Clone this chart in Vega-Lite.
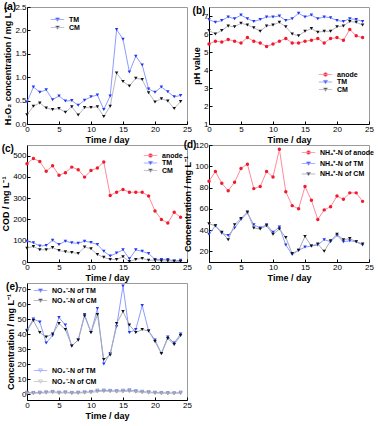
{
"$schema":"https://vega.github.io/schema/vega-lite/v6.json",
"padding":{"left":1,"top":1,"right":0,"bottom":0},
"columns":2,
"spacing":{"row":-6,"column":-9},
"resolve":{"scale":{"stroke":"independent"},"legend":{"stroke":"independent"}},
"datasets":{
"a":[
{"d":0,"s":"TM","v":0.47},{"d":1,"s":"TM","v":0.79},{"d":2,"s":"TM","v":0.68},{"d":3,"s":"TM","v":0.73},{"d":4,"s":"TM","v":0.52},{"d":5,"s":"TM","v":0.60},{"d":6,"s":"TM","v":0.49},{"d":7,"s":"TM","v":0.50},{"d":8,"s":"TM","v":0.40},{"d":9,"s":"TM","v":0.51},{"d":10,"s":"TM","v":0.58},{"d":11,"s":"TM","v":0.62},{"d":12,"s":"TM","v":0.31},{"d":13,"s":"TM","v":0.60},{"d":14,"s":"TM","v":2.02},{"d":15,"s":"TM","v":1.81},{"d":16,"s":"TM","v":1.11},{"d":17,"s":"TM","v":1.45},{"d":18,"s":"TM","v":1.26},{"d":19,"s":"TM","v":0.75},{"d":20,"s":"TM","v":0.68},{"d":21,"s":"TM","v":0.79},{"d":22,"s":"TM","v":0.69},{"d":23,"s":"TM","v":0.58},{"d":24,"s":"TM","v":0.61},
{"d":0,"s":"CM","v":0.20},{"d":1,"s":"CM","v":0.38},{"d":2,"s":"CM","v":0.45},{"d":3,"s":"CM","v":0.34},{"d":4,"s":"CM","v":0.31},{"d":5,"s":"CM","v":0.33},{"d":6,"s":"CM","v":0.25},{"d":7,"s":"CM","v":0.37},{"d":8,"s":"CM","v":0.19},{"d":9,"s":"CM","v":0.35},{"d":10,"s":"CM","v":0.35},{"d":11,"s":"CM","v":0.37},{"d":12,"s":"CM","v":0.16},{"d":13,"s":"CM","v":0.38},{"d":14,"s":"CM","v":1.09},{"d":15,"s":"CM","v":0.91},{"d":16,"s":"CM","v":0.81},{"d":17,"s":"CM","v":0.98},{"d":18,"s":"CM","v":0.95},{"d":19,"s":"CM","v":0.67},{"d":20,"s":"CM","v":0.47},{"d":21,"s":"CM","v":0.54},{"d":22,"s":"CM","v":0.49},{"d":23,"s":"CM","v":0.33},{"d":24,"s":"CM","v":0.48}
],
"b":[
{"d":0,"s":"anode","v":5.45},{"d":1,"s":"anode","v":5.6},{"d":2,"s":"anode","v":5.55},{"d":3,"s":"anode","v":5.7},{"d":4,"s":"anode","v":5.6},{"d":5,"s":"anode","v":5.5},{"d":6,"s":"anode","v":5.8},{"d":7,"s":"anode","v":5.6},{"d":8,"s":"anode","v":5.5},{"d":9,"s":"anode","v":5.3},{"d":10,"s":"anode","v":5.45},{"d":11,"s":"anode","v":5.6},{"d":12,"s":"anode","v":5.75},{"d":13,"s":"anode","v":5.5},{"d":14,"s":"anode","v":5.5},{"d":15,"s":"anode","v":5.6},{"d":16,"s":"anode","v":5.65},{"d":17,"s":"anode","v":5.75},{"d":18,"s":"anode","v":5.5},{"d":19,"s":"anode","v":5.75},{"d":20,"s":"anode","v":5.8},{"d":21,"s":"anode","v":5.65},{"d":22,"s":"anode","v":6.25},{"d":23,"s":"anode","v":5.9},{"d":24,"s":"anode","v":5.8},
{"d":0,"s":"TM","v":6.8},{"d":1,"s":"TM","v":6.65},{"d":2,"s":"TM","v":6.75},{"d":3,"s":"TM","v":6.95},{"d":4,"s":"TM","v":6.85},{"d":5,"s":"TM","v":7.05},{"d":6,"s":"TM","v":6.85},{"d":7,"s":"TM","v":6.7},{"d":8,"s":"TM","v":6.8},{"d":9,"s":"TM","v":6.95},{"d":10,"s":"TM","v":6.95},{"d":11,"s":"TM","v":7.0},{"d":12,"s":"TM","v":6.75},{"d":13,"s":"TM","v":6.85},{"d":14,"s":"TM","v":7.15},{"d":15,"s":"TM","v":6.95},{"d":16,"s":"TM","v":7.05},{"d":17,"s":"TM","v":6.85},{"d":18,"s":"TM","v":6.95},{"d":19,"s":"TM","v":6.9},{"d":20,"s":"TM","v":6.75},{"d":21,"s":"TM","v":6.7},{"d":22,"s":"TM","v":6.85},{"d":23,"s":"TM","v":6.8},{"d":24,"s":"TM","v":6.7},
{"d":0,"s":"CM","v":6.2},{"d":1,"s":"CM","v":6.0},{"d":2,"s":"CM","v":6.2},{"d":3,"s":"CM","v":6.45},{"d":4,"s":"CM","v":6.4},{"d":5,"s":"CM","v":6.6},{"d":6,"s":"CM","v":6.5},{"d":7,"s":"CM","v":6.35},{"d":8,"s":"CM","v":6.15},{"d":9,"s":"CM","v":6.45},{"d":10,"s":"CM","v":6.5},{"d":11,"s":"CM","v":6.65},{"d":12,"s":"CM","v":6.4},{"d":13,"s":"CM","v":6.0},{"d":14,"s":"CM","v":5.9},{"d":15,"s":"CM","v":6.15},{"d":16,"s":"CM","v":6.3},{"d":17,"s":"CM","v":6.1},{"d":18,"s":"CM","v":6.15},{"d":19,"s":"CM","v":6.15},{"d":20,"s":"CM","v":6.4},{"d":21,"s":"CM","v":6.45},{"d":22,"s":"CM","v":6.7},{"d":23,"s":"CM","v":6.65},{"d":24,"s":"CM","v":6.5}
],
"c":[
{"d":0,"s":"anode","v":462},{"d":1,"s":"anode","v":487},{"d":2,"s":"anode","v":472},{"d":3,"s":"anode","v":427},{"d":4,"s":"anode","v":452},{"d":5,"s":"anode","v":408},{"d":6,"s":"anode","v":420},{"d":7,"s":"anode","v":446},{"d":8,"s":"anode","v":434},{"d":9,"s":"anode","v":399},{"d":10,"s":"anode","v":430},{"d":11,"s":"anode","v":442},{"d":12,"s":"anode","v":470},{"d":13,"s":"anode","v":313},{"d":14,"s":"anode","v":328},{"d":15,"s":"anode","v":341},{"d":16,"s":"anode","v":328},{"d":17,"s":"anode","v":328},{"d":18,"s":"anode","v":328},{"d":19,"s":"anode","v":310},{"d":20,"s":"anode","v":240},{"d":21,"s":"anode","v":200},{"d":22,"s":"anode","v":183},{"d":23,"s":"anode","v":234},{"d":24,"s":"anode","v":210},
{"d":0,"s":"TM","v":97},{"d":1,"s":"TM","v":90},{"d":2,"s":"TM","v":75},{"d":3,"s":"TM","v":78},{"d":4,"s":"TM","v":102},{"d":5,"s":"TM","v":82},{"d":6,"s":"TM","v":98},{"d":7,"s":"TM","v":90},{"d":8,"s":"TM","v":88},{"d":9,"s":"TM","v":98},{"d":10,"s":"TM","v":92},{"d":11,"s":"TM","v":82},{"d":12,"s":"TM","v":50},{"d":13,"s":"TM","v":28},{"d":14,"s":"TM","v":42},{"d":15,"s":"TM","v":57},{"d":16,"s":"TM","v":15},{"d":17,"s":"TM","v":57},{"d":18,"s":"TM","v":50},{"d":19,"s":"TM","v":40},{"d":20,"s":"TM","v":12},{"d":21,"s":"TM","v":12},{"d":22,"s":"TM","v":12},{"d":23,"s":"TM","v":5},{"d":24,"s":"TM","v":8},
{"d":0,"s":"CM","v":65},{"d":1,"s":"CM","v":73},{"d":2,"s":"CM","v":58},{"d":3,"s":"CM","v":57},{"d":4,"s":"CM","v":68},{"d":5,"s":"CM","v":54},{"d":6,"s":"CM","v":48},{"d":7,"s":"CM","v":45},{"d":8,"s":"CM","v":40},{"d":9,"s":"CM","v":70},{"d":10,"s":"CM","v":62},{"d":11,"s":"CM","v":35},{"d":12,"s":"CM","v":22},{"d":13,"s":"CM","v":12},{"d":14,"s":"CM","v":12},{"d":15,"s":"CM","v":25},{"d":16,"s":"CM","v":2},{"d":17,"s":"CM","v":12},{"d":18,"s":"CM","v":17},{"d":19,"s":"CM","v":8},{"d":20,"s":"CM","v":8},{"d":21,"s":"CM","v":5},{"d":22,"s":"CM","v":5},{"d":23,"s":"CM","v":3},{"d":24,"s":"CM","v":2}
],
"dd":[
{"d":0,"s":"anode","v":86},{"d":1,"s":"anode","v":95},{"d":2,"s":"anode","v":84},{"d":3,"s":"anode","v":77},{"d":4,"s":"anode","v":85},{"d":5,"s":"anode","v":98},{"d":6,"s":"anode","v":102},{"d":7,"s":"anode","v":79},{"d":8,"s":"anode","v":81},{"d":9,"s":"anode","v":95},{"d":10,"s":"anode","v":90},{"d":11,"s":"anode","v":116},{"d":12,"s":"anode","v":76},{"d":13,"s":"anode","v":63},{"d":14,"s":"anode","v":60},{"d":15,"s":"anode","v":81},{"d":16,"s":"anode","v":68},{"d":17,"s":"anode","v":50},{"d":18,"s":"anode","v":59},{"d":19,"s":"anode","v":62},{"d":20,"s":"anode","v":72},{"d":21,"s":"anode","v":69},{"d":22,"s":"anode","v":75},{"d":23,"s":"anode","v":75},{"d":24,"s":"anode","v":67},
{"d":0,"s":"TM","v":36},{"d":1,"s":"TM","v":44},{"d":2,"s":"TM","v":37},{"d":3,"s":"TM","v":35},{"d":4,"s":"TM","v":42},{"d":5,"s":"TM","v":50},{"d":6,"s":"TM","v":56},{"d":7,"s":"TM","v":45},{"d":8,"s":"TM","v":42},{"d":9,"s":"TM","v":45},{"d":10,"s":"TM","v":38},{"d":11,"s":"TM","v":43},{"d":12,"s":"TM","v":26},{"d":13,"s":"TM","v":17},{"d":14,"s":"TM","v":21},{"d":15,"s":"TM","v":24},{"d":16,"s":"TM","v":25},{"d":17,"s":"TM","v":26},{"d":18,"s":"TM","v":31},{"d":19,"s":"TM","v":29},{"d":20,"s":"TM","v":35},{"d":21,"s":"TM","v":29},{"d":22,"s":"TM","v":30},{"d":23,"s":"TM","v":29},{"d":24,"s":"TM","v":26},
{"d":0,"s":"CM","v":46},{"d":1,"s":"CM","v":44},{"d":2,"s":"CM","v":38},{"d":3,"s":"CM","v":31},{"d":4,"s":"CM","v":45},{"d":5,"s":"CM","v":51},{"d":6,"s":"CM","v":57},{"d":7,"s":"CM","v":42},{"d":8,"s":"CM","v":41},{"d":9,"s":"CM","v":44},{"d":10,"s":"CM","v":36},{"d":11,"s":"CM","v":41},{"d":12,"s":"CM","v":33},{"d":13,"s":"CM","v":18},{"d":14,"s":"CM","v":21},{"d":15,"s":"CM","v":34},{"d":16,"s":"CM","v":25},{"d":17,"s":"CM","v":27},{"d":18,"s":"CM","v":20},{"d":19,"s":"CM","v":30},{"d":20,"s":"CM","v":36},{"d":21,"s":"CM","v":31},{"d":22,"s":"CM","v":32},{"d":23,"s":"CM","v":29},{"d":24,"s":"CM","v":27}
],
"e3":[
{"d":0,"s":"TM","v":42.5},{"d":1,"s":"TM","v":50},{"d":2,"s":"TM","v":48},{"d":3,"s":"TM","v":34},{"d":4,"s":"TM","v":39},{"d":5,"s":"TM","v":51},{"d":6,"s":"TM","v":46},{"d":7,"s":"TM","v":32},{"d":8,"s":"TM","v":36},{"d":9,"s":"TM","v":53},{"d":10,"s":"TM","v":41},{"d":11,"s":"TM","v":57},{"d":12,"s":"TM","v":20},{"d":13,"s":"TM","v":27},{"d":14,"s":"TM","v":45},{"d":15,"s":"TM","v":72},{"d":16,"s":"TM","v":41},{"d":17,"s":"TM","v":43},{"d":18,"s":"TM","v":59},{"d":19,"s":"TM","v":42},{"d":20,"s":"TM","v":36},{"d":21,"s":"TM","v":27},{"d":22,"s":"TM","v":38},{"d":23,"s":"TM","v":34},{"d":24,"s":"TM","v":40},
{"d":0,"s":"CM","v":42},{"d":1,"s":"CM","v":49},{"d":2,"s":"CM","v":41},{"d":3,"s":"CM","v":38},{"d":4,"s":"CM","v":40},{"d":5,"s":"CM","v":47},{"d":6,"s":"CM","v":43},{"d":7,"s":"CM","v":32},{"d":8,"s":"CM","v":36},{"d":9,"s":"CM","v":52},{"d":10,"s":"CM","v":41},{"d":11,"s":"CM","v":53},{"d":12,"s":"CM","v":23},{"d":13,"s":"CM","v":26},{"d":14,"s":"CM","v":47},{"d":15,"s":"CM","v":55},{"d":16,"s":"CM","v":46},{"d":17,"s":"CM","v":41},{"d":18,"s":"CM","v":43},{"d":19,"s":"CM","v":42},{"d":20,"s":"CM","v":35},{"d":21,"s":"CM","v":27},{"d":22,"s":"CM","v":37},{"d":23,"s":"CM","v":33},{"d":24,"s":"CM","v":39}
],
"e2":[
{"d":0,"s":"TM","v":1.0},{"d":1,"s":"TM","v":0.8},{"d":2,"s":"TM","v":1.0},{"d":3,"s":"TM","v":1.2},{"d":4,"s":"TM","v":1.5},{"d":5,"s":"TM","v":1.0},{"d":6,"s":"TM","v":1.2},{"d":7,"s":"TM","v":0.8},{"d":8,"s":"TM","v":1.0},{"d":9,"s":"TM","v":1.2},{"d":10,"s":"TM","v":1.5},{"d":11,"s":"TM","v":2.3},{"d":12,"s":"TM","v":2.4},{"d":13,"s":"TM","v":2.2},{"d":14,"s":"TM","v":2.0},{"d":15,"s":"TM","v":2.3},{"d":16,"s":"TM","v":2.6},{"d":17,"s":"TM","v":2.0},{"d":18,"s":"TM","v":1.6},{"d":19,"s":"TM","v":1.3},{"d":20,"s":"TM","v":1.0},{"d":21,"s":"TM","v":0.8},{"d":22,"s":"TM","v":0.7},{"d":23,"s":"TM","v":0.6},{"d":24,"s":"TM","v":1.0},
{"d":0,"s":"CM","v":0.6},{"d":1,"s":"CM","v":0.4},{"d":2,"s":"CM","v":0.5},{"d":3,"s":"CM","v":0.8},{"d":4,"s":"CM","v":1.0},{"d":5,"s":"CM","v":0.6},{"d":6,"s":"CM","v":0.8},{"d":7,"s":"CM","v":0.5},{"d":8,"s":"CM","v":0.6},{"d":9,"s":"CM","v":0.8},{"d":10,"s":"CM","v":1.0},{"d":11,"s":"CM","v":1.6},{"d":12,"s":"CM","v":1.8},{"d":13,"s":"CM","v":1.7},{"d":14,"s":"CM","v":1.5},{"d":15,"s":"CM","v":1.6},{"d":16,"s":"CM","v":1.8},{"d":17,"s":"CM","v":1.4},{"d":18,"s":"CM","v":1.0},{"d":19,"s":"CM","v":0.8},{"d":20,"s":"CM","v":0.6},{"d":21,"s":"CM","v":0.4},{"d":22,"s":"CM","v":0.3},{"d":23,"s":"CM","v":0.3},{"d":24,"s":"CM","v":0.5}
]
},
"concat":[
{
"width":160,"height":117,
"title":{"text":"(a)"},
"data":{"name":"a"},
"encoding":{
"x":{"field":"d","type":"quantitative","scale":{"domain":[0,25]},"axis":{"values":[0,5,10,15,20,25],"title":"Time / day"}},
"y":{"field":"v","type":"quantitative","scale":{"domain":[0,2.5]},"axis":{"values":[0,0.5,1,1.5,2,2.5],"format":".1f","title":"H₂O₂ concentration / mg L⁻¹"}}
},
"layer":[
{"transform":[{"filter":"datum.s === 'TM'"}],"layer":[
{"mark":{"type":"line","strokeWidth":1},"encoding":{"stroke":{"field":"s","type":"nominal","scale":{"domain":["TM"],"range":["#8e9cff"]},"legend":{"orient":"none","legendX":27,"legendY":9,"title":null,"symbolType":"M-3,0H3M-0.9,-0.7L0.9,-0.7L0,0.8Z","symbolSize":20,"symbolStrokeWidth":0.8,"symbolFillColor":"#2238f0","labelOffset":8,"labelFontSize":7}}}},
{"mark":{"type":"point","shape":"triangle-down","filled":true,"size":12,"color":"#2238f0","opacity":1}}]},
{"transform":[{"filter":"datum.s === 'CM'"}],"layer":[
{"mark":{"type":"line","strokeWidth":1},"encoding":{"stroke":{"field":"s","type":"nominal","scale":{"domain":["CM"],"range":["#b4b8c4"]},"legend":{"orient":"none","legendX":27,"legendY":17,"title":null,"symbolType":"M-3,0H3M-0.9,-0.7L0.9,-0.7L0,0.8Z","symbolSize":20,"symbolStrokeWidth":0.8,"symbolFillColor":"#111111","labelOffset":8,"labelFontSize":7}}}},
{"mark":{"type":"point","shape":"triangle-down","filled":true,"size":12,"color":"#111111","opacity":1}}]}
],
"resolve":{"scale":{"stroke":"independent"},"legend":{"stroke":"independent"}}
},
{
"width":160,"height":117,
"title":{"text":"(b)"},
"data":{"name":"b"},
"encoding":{
"x":{"field":"d","type":"quantitative","scale":{"domain":[0,25]},"axis":{"values":[0,5,10,15,20,25],"title":"Time / day"}},
"y":{"field":"v","type":"quantitative","scale":{"domain":[1,7.5]},"axis":{"values":[1,2,3,4,5,6,7],"title":"pH value"}}
},
"layer":[
{"transform":[{"filter":"datum.s === 'anode'"}],"layer":[
{"mark":{"type":"line","strokeWidth":1},"encoding":{"stroke":{"field":"s","type":"nominal","scale":{"domain":["anode"],"range":["#ff8a9a"]},"legend":{"orient":"none","legendX":113,"legendY":64,"title":null,"symbolType":"M-3,0H3M-0.8,-0.35L-0.35,-0.8L0.35,-0.8L0.8,-0.35L0.8,0.35L0.35,0.8L-0.35,0.8L-0.8,0.35Z","symbolSize":20,"symbolStrokeWidth":0.8,"symbolFillColor":"#ee1c2e","labelOffset":8,"labelFontSize":7}}}},
{"mark":{"type":"point","shape":"circle","filled":true,"size":12,"color":"#ee1c2e","opacity":1}}]},
{"transform":[{"filter":"datum.s === 'TM'"}],"layer":[
{"mark":{"type":"line","strokeWidth":1},"encoding":{"stroke":{"field":"s","type":"nominal","scale":{"domain":["TM"],"range":["#8e9cff"]},"legend":{"orient":"none","legendX":113,"legendY":71.5,"title":null,"symbolType":"M-3,0H3M-0.9,-0.7L0.9,-0.7L0,0.8Z","symbolSize":20,"symbolStrokeWidth":0.8,"symbolFillColor":"#2238f0","labelOffset":8,"labelFontSize":7}}}},
{"mark":{"type":"point","shape":"triangle-down","filled":true,"size":12,"color":"#2238f0","opacity":1}}]},
{"transform":[{"filter":"datum.s === 'CM'"}],"layer":[
{"mark":{"type":"line","strokeWidth":1},"encoding":{"stroke":{"field":"s","type":"nominal","scale":{"domain":["CM"],"range":["#b4b8c4"]},"legend":{"orient":"none","legendX":113,"legendY":79,"title":null,"symbolType":"M-3,0H3M-0.9,-0.7L0.9,-0.7L0,0.8Z","symbolSize":20,"symbolStrokeWidth":0.8,"symbolFillColor":"#111111","labelOffset":8,"labelFontSize":7}}}},
{"mark":{"type":"point","shape":"triangle-down","filled":true,"size":12,"color":"#111111","opacity":1}}]}
],
"resolve":{"scale":{"stroke":"independent"},"legend":{"stroke":"independent"}}
},
{
"width":160,"height":117,
"title":{"text":"(c)"},
"data":{"name":"c"},
"encoding":{
"x":{"field":"d","type":"quantitative","scale":{"domain":[0,25]},"axis":{"values":[0,5,10,15,20,25],"title":"Time / day"}},
"y":{"field":"v","type":"quantitative","scale":{"domain":[0,550]},"axis":{"values":[0,100,200,300,400,500],"title":"COD / mg L⁻¹"}}
},
"layer":[
{"transform":[{"filter":"datum.s === 'anode'"}],"layer":[
{"mark":{"type":"line","strokeWidth":1},"encoding":{"stroke":{"field":"s","type":"nominal","scale":{"domain":["anode"],"range":["#ff8a9a"]},"legend":{"orient":"none","legendX":120,"legendY":7,"title":null,"symbolType":"M-3,0H3M-0.8,-0.35L-0.35,-0.8L0.35,-0.8L0.8,-0.35L0.8,0.35L0.35,0.8L-0.35,0.8L-0.8,0.35Z","symbolSize":20,"symbolStrokeWidth":0.8,"symbolFillColor":"#ee1c2e","labelOffset":8,"labelFontSize":7}}}},
{"mark":{"type":"point","shape":"circle","filled":true,"size":12,"color":"#ee1c2e","opacity":1}}]},
{"transform":[{"filter":"datum.s === 'TM'"}],"layer":[
{"mark":{"type":"line","strokeWidth":1},"encoding":{"stroke":{"field":"s","type":"nominal","scale":{"domain":["TM"],"range":["#8e9cff"]},"legend":{"orient":"none","legendX":120,"legendY":14.5,"title":null,"symbolType":"M-3,0H3M-0.9,-0.7L0.9,-0.7L0,0.8Z","symbolSize":20,"symbolStrokeWidth":0.8,"symbolFillColor":"#2238f0","labelOffset":8,"labelFontSize":7}}}},
{"mark":{"type":"point","shape":"triangle-down","filled":true,"size":12,"color":"#2238f0","opacity":1}}]},
{"transform":[{"filter":"datum.s === 'CM'"}],"layer":[
{"mark":{"type":"line","strokeWidth":1},"encoding":{"stroke":{"field":"s","type":"nominal","scale":{"domain":["CM"],"range":["#b4b8c4"]},"legend":{"orient":"none","legendX":120,"legendY":22,"title":null,"symbolType":"M-3,0H3M-0.9,-0.7L0.9,-0.7L0,0.8Z","symbolSize":20,"symbolStrokeWidth":0.8,"symbolFillColor":"#111111","labelOffset":8,"labelFontSize":7}}}},
{"mark":{"type":"point","shape":"triangle-down","filled":true,"size":12,"color":"#111111","opacity":1}}]}
],
"resolve":{"scale":{"stroke":"independent"},"legend":{"stroke":"independent"}}
},
{
"width":160,"height":117,
"title":{"text":"(d)"},
"data":{"name":"dd"},
"encoding":{
"x":{"field":"d","type":"quantitative","scale":{"domain":[0,25]},"axis":{"values":[0,5,10,15,20,25],"title":"Time / day"}},
"y":{"field":"v","type":"quantitative","scale":{"domain":[10,120]},"axis":{"values":[20,40,60,80,100,120],"title":"Concentration / mg L⁻¹"}}
},
"layer":[
{"transform":[{"filter":"datum.s === 'anode'"}],"layer":[
{"mark":{"type":"line","strokeWidth":1},"encoding":{"stroke":{"field":"s","type":"nominal","scale":{"domain":["anode"],"range":["#ff8a9a"]},"legend":{"orient":"none","legendX":96,"legendY":4,"title":null,"symbolType":"M-3,0H3M-0.8,-0.35L-0.35,-0.8L0.35,-0.8L0.8,-0.35L0.8,0.35L0.35,0.8L-0.35,0.8L-0.8,0.35Z","symbolSize":20,"symbolStrokeWidth":0.8,"symbolFillColor":"#ee1c2e","labelOffset":8,"labelFontSize":7,"labelExpr":"'NH₄⁺-N of ' + datum.label"}}}},
{"mark":{"type":"point","shape":"circle","filled":true,"size":12,"color":"#ee1c2e","opacity":1}}]},
{"transform":[{"filter":"datum.s === 'TM'"}],"layer":[
{"mark":{"type":"line","strokeWidth":1},"encoding":{"stroke":{"field":"s","type":"nominal","scale":{"domain":["TM"],"range":["#8e9cff"]},"legend":{"orient":"none","legendX":96,"legendY":15,"title":null,"symbolType":"M-3,0H3M-0.9,-0.7L0.9,-0.7L0,0.8Z","symbolSize":20,"symbolStrokeWidth":0.8,"symbolFillColor":"#2238f0","labelOffset":8,"labelFontSize":7,"labelExpr":"'NH₄⁺-N of ' + datum.label"}}}},
{"mark":{"type":"point","shape":"triangle-down","filled":true,"size":12,"color":"#2238f0","opacity":1}}]},
{"transform":[{"filter":"datum.s === 'CM'"}],"layer":[
{"mark":{"type":"line","strokeWidth":1},"encoding":{"stroke":{"field":"s","type":"nominal","scale":{"domain":["CM"],"range":["#a4aab6"]},"legend":{"orient":"none","legendX":96,"legendY":25.5,"title":null,"symbolType":"M-3,0H3M-0.9,-0.7L0.9,-0.7L0,0.8Z","symbolSize":20,"symbolStrokeWidth":0.8,"symbolFillColor":"#111111","labelOffset":8,"labelFontSize":7,"labelExpr":"'NH₄⁺-N of ' + datum.label"}}}},
{"mark":{"type":"point","shape":"triangle-down","filled":true,"size":12,"color":"#111111","opacity":1}}]}
],
"resolve":{"scale":{"stroke":"independent"},"legend":{"stroke":"independent"}}
},
{
"width":160,"height":117,
"title":{"text":"(e)"},
"encoding":{
"x":{"field":"d","type":"quantitative","scale":{"domain":[0,25]},"axis":{"values":[0,5,10,15,20,25],"title":"Time / day"}},
"y":{"field":"v","type":"quantitative","scale":{"domain":[-4,74]},"axis":{"values":[0,10,20,30,40,50,60,70],"title":"Concentration / mg L⁻¹"}}
},
"layer":[
{"data":{"name":"e3"},"transform":[{"filter":"datum.s === 'TM'"}],"layer":[
{"mark":{"type":"line","strokeWidth":1},"encoding":{"stroke":{"field":"s","type":"nominal","scale":{"domain":["TM"],"range":["#8e9cff"]},"legend":{"orient":"none","legendX":10,"legendY":4,"title":null,"symbolType":"M-3,0H3M-0.9,-0.7L0.9,-0.7L0,0.8Z","symbolSize":20,"symbolStrokeWidth":0.8,"symbolFillColor":"#2238f0","labelOffset":8,"labelFontSize":7,"labelExpr":"'NO₃⁻-N of ' + datum.label"}}}},
{"mark":{"type":"point","shape":"triangle-down","filled":true,"size":12,"color":"#2238f0","opacity":1}}]},
{"data":{"name":"e3"},"transform":[{"filter":"datum.s === 'CM'"}],"layer":[
{"mark":{"type":"line","strokeWidth":1},"encoding":{"stroke":{"field":"s","type":"nominal","scale":{"domain":["CM"],"range":["#a4aab6"]},"legend":{"orient":"none","legendX":10,"legendY":14,"title":null,"symbolType":"M-3,0H3M-0.9,-0.7L0.9,-0.7L0,0.8Z","symbolSize":20,"symbolStrokeWidth":0.8,"symbolFillColor":"#111111","labelOffset":8,"labelFontSize":7,"labelExpr":"'NO₃⁻-N of ' + datum.label"}}}},
{"mark":{"type":"point","shape":"triangle-down","filled":true,"size":12,"color":"#111111","opacity":1}}]},
{"data":{"name":"e2"},"transform":[{"filter":"datum.s === 'TM'"}],"layer":[
{"mark":{"type":"line","strokeWidth":1},"encoding":{"stroke":{"field":"s","type":"nominal","scale":{"domain":["TM"],"range":["#9aa6ff"]},"legend":{"orient":"none","legendX":10,"legendY":84,"title":null,"symbolType":"M-3,0H3M-0.9,-0.7L0.9,-0.7L0,0.8Z","symbolSize":20,"symbolStrokeWidth":0.8,"symbolFillColor":"#ffffff","labelOffset":8,"labelFontSize":7,"labelExpr":"'NO₂⁻-N of ' + datum.label"}}}},
{"mark":{"type":"point","shape":"triangle-down","filled":false,"size":10,"color":"#7080f0","strokeWidth":0.8,"opacity":1}}]},
{"data":{"name":"e2"},"transform":[{"filter":"datum.s === 'CM'"}],"layer":[
{"mark":{"type":"line","strokeWidth":1},"encoding":{"stroke":{"field":"s","type":"nominal","scale":{"domain":["CM"],"range":["#c4c4c4"]},"legend":{"orient":"none","legendX":10,"legendY":95,"title":null,"symbolType":"M-3,0H3M-0.9,-0.7L0.9,-0.7L0,0.8Z","symbolSize":20,"symbolStrokeWidth":0.8,"symbolFillColor":"#ffffff","labelOffset":8,"labelFontSize":7,"labelExpr":"'NO₂⁻-N of ' + datum.label"}}}},
{"mark":{"type":"point","shape":"triangle-down","filled":false,"size":10,"color":"#999999","strokeWidth":0.8,"opacity":1}}]}
],
"resolve":{"scale":{"stroke":"independent"},"legend":{"stroke":"independent"}}
}
],
"config":{
"font":"Liberation Sans",
"view":{"stroke":"#9a9a9a","strokeWidth":1},
"axis":{"grid":false,"domainColor":"#000","tickColor":"#000","labelColor":"#000","titleColor":"#000","labelFontSize":8,"titleFontSize":9,"titleFontWeight":"bold","tickSize":-3,"labelPadding":4},
"axisX":{"labelFlush":false,"titlePadding":2},
"axisY":{"titlePadding":2},
"legend":{"labelFontWeight":"bold","labelColor":"#000","padding":0},
"title":{"fontSize":10,"fontWeight":"bold","anchor":"start","frame":"bounds","offset":-9,"color":"#000"}
}
}
